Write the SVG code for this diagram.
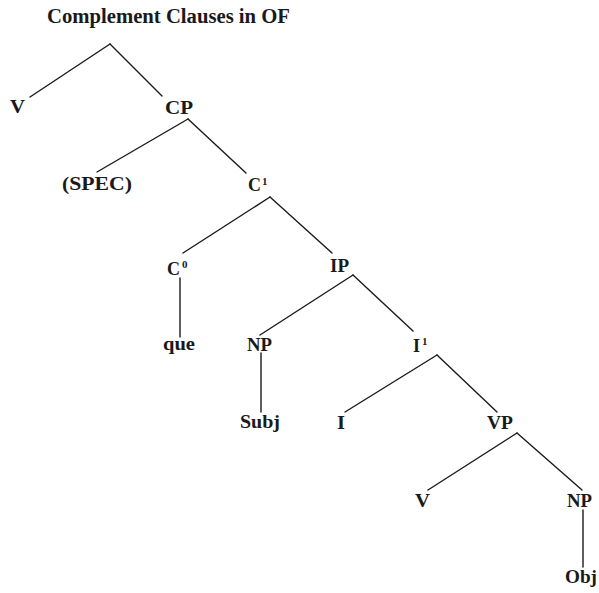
<svg xmlns="http://www.w3.org/2000/svg" width="599" height="593" viewBox="0 0 599 593">
<style>
text{font-family:"Liberation Serif","Times New Roman",serif;font-weight:bold;font-size:18px;fill:#1a1a1a}
#title{font-size:20px}
.sup{font-size:11px}
#edges line{stroke:#1a1a1a;stroke-width:1.4;stroke-linecap:round}
</style>
<rect width="599" height="593" fill="#fff"/>
<text id="title" x="47" y="23" textLength="243" lengthAdjust="spacingAndGlyphs">Complement Clauses in OF</text>
<g id="edges">
<line x1="110" y1="44" x2="30" y2="97"/>
<line x1="110" y1="44" x2="162" y2="96"/>
<line x1="188" y1="119" x2="97" y2="172"/>
<line x1="188" y1="119" x2="246" y2="173"/>
<line x1="270" y1="197" x2="183" y2="253"/>
<line x1="270" y1="197" x2="332" y2="253"/>
<line x1="180" y1="278" x2="180" y2="337"/>
<line x1="353" y1="275" x2="260" y2="335"/>
<line x1="353" y1="275" x2="413" y2="331"/>
<line x1="261" y1="353" x2="261" y2="412"/>
<line x1="437" y1="355" x2="345" y2="412"/>
<line x1="437" y1="355" x2="497" y2="412"/>
<line x1="517" y1="433" x2="428" y2="490"/>
<line x1="517" y1="433" x2="582" y2="490"/>
<line x1="583" y1="510" x2="583" y2="567"/>
</g>
<g id="n_V1"><text x="10" y="113" textLength="15" lengthAdjust="spacingAndGlyphs">V</text></g>
<g id="n_CP"><text x="165" y="114" textLength="28" lengthAdjust="spacingAndGlyphs">CP</text></g>
<g id="n_SPEC"><text x="62" y="190" textLength="70" lengthAdjust="spacingAndGlyphs">(SPEC)</text></g>
<g id="n_C1"><text x="248" y="191">C</text><text class="sup" x="262" y="185">1</text></g>
<g id="n_C0"><text x="167" y="275">C</text><text class="sup" x="182" y="268">0</text></g>
<g id="n_IP"><text x="330" y="272" textLength="19" lengthAdjust="spacingAndGlyphs">IP</text></g>
<g id="n_que"><text x="163" y="350" textLength="32" lengthAdjust="spacingAndGlyphs">que</text></g>
<g id="n_NP1"><text x="247" y="351" textLength="25" lengthAdjust="spacingAndGlyphs">NP</text></g>
<g id="n_I1"><text x="413" y="352">I</text><text class="sup" x="422" y="345">1</text></g>
<g id="n_Subj"><text x="240" y="428" textLength="40" lengthAdjust="spacingAndGlyphs">Subj</text></g>
<g id="n_I"><text x="337" y="429" textLength="8" lengthAdjust="spacingAndGlyphs">I</text></g>
<g id="n_VP"><text x="487" y="429" textLength="26" lengthAdjust="spacingAndGlyphs">VP</text></g>
<g id="n_V2"><text x="415" y="507" textLength="15" lengthAdjust="spacingAndGlyphs">V</text></g>
<g id="n_NP2"><text x="567" y="507" textLength="25" lengthAdjust="spacingAndGlyphs">NP</text></g>
<g id="n_Obj"><text x="565" y="583" textLength="32" lengthAdjust="spacingAndGlyphs">Obj</text></g>
</svg>
